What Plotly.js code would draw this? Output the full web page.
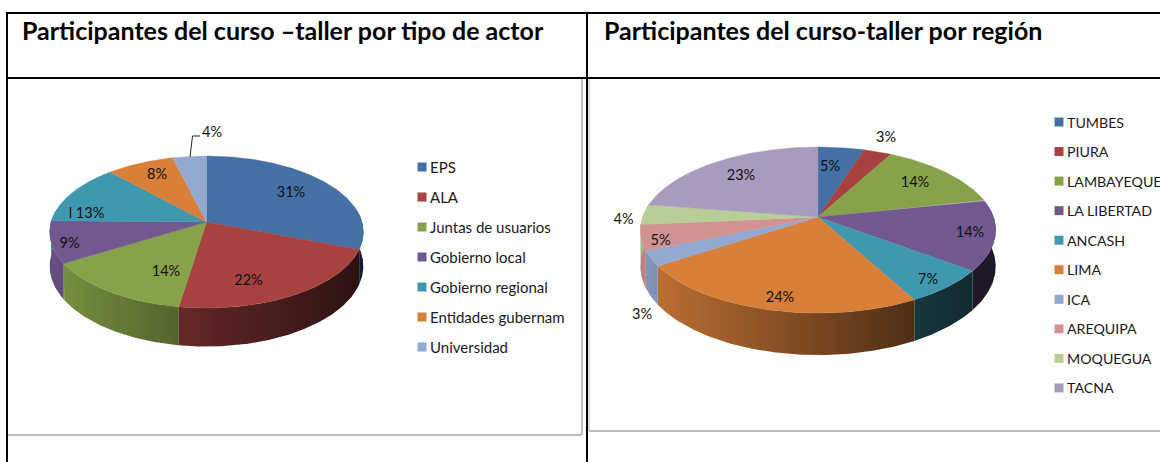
<!DOCTYPE html>
<html>
<head>
<meta charset="utf-8">
<script src="https://cdn.plot.ly/plotly-3.0.1.min.js"></script>
<style>html,body{margin:0;padding:0;background:#fff;overflow:hidden}#chart{width:1160px;height:462px}</style>
</head>
<body>
<div id="chart"></div>
<script>
// ---- data ----
const actorCategories = ['EPS','ALA','Juntas de usuarios','Gobierno local','Gobierno regional','Entidades gubernam','Universidad'];
const actorPercent = [31,22,14,9,13,8,4];
const actorLabelText = ['31%','22%','14%','9%','l 13%','8%','4%'];
const regionCategories = ['TUMBES','PIURA','LAMBAYEQUE','LA LIBERTAD','ANCASH','LIMA','ICA','AREQUIPA','MOQUEGUA','TACNA'];
const regionPercent = [5,3,14,14,7,24,3,5,4,23];
const regionLabelText = ['5%','3%','14%','14%','7%','24%','3%','5%','4%','23%'];
const titleLeft = 'Participantes del curso –taller por tipo de actor';
const titleRight = 'Participantes del curso-taller por región';

// ---- style and layout ----
const actorColors = ['#4470a6','#a74241','#87a34a','#71588f','#4098af','#d87f3a','#93a9cf'];
const regionColors = ['#4470a6','#a74241','#87a34a','#71588f','#4098af','#d87f3a','#93a9cf','#d19392','#b9cd96','#a99bbd'];
const leftGeom = {cx:206.5, cy:222, R:155.5, H:74.7, k:0.1316, D:33.5};
const rightGeom = {cx:818, cy:217, R:175.5, H:81, k:0.157, D:35.4};
const leftLabelPos = [[291,193],[248.5,281],[166,272],[69.5,244],[86.5,214],[157,175],[212,133]];
const rightLabelPos = [[830,167],[886,138],[915,183],[970,233],[928,280],[780,298],[642,315],[660.5,241],[623.5,220],[741,176]];
const leftLegend = {x:422, y:167, step:30, textX:430, textDy:2, size:15};
const rightLegend = {x:1059, y:122, step:29.55, textX:1067, textDy:2, size:14.2};
const FONT = 'Lato, "Open Sans", sans-serif';

function rim(g, deg, drop) {
  const a = deg * Math.PI / 180, u = Math.sin(a), v = -Math.cos(a);
  const s = 1 / (1 - g.k * v);
  return [g.cx + g.R * u * s, g.cy + g.H * v * s + (drop ? g.D * s : 0)];
}
function shade(hex, f) {
  const n = parseInt(hex.slice(1), 16);
  const c = [n >> 16, (n >> 8) & 255, n & 255].map(x => Math.round(x * f));
  return 'rgb(' + c.join(',') + ')';
}
function pieTraces(values, colors, g) {
  const total = values.reduce((a, b) => a + b, 0);
  const walls = [], tops = [];
  let acc = 0;
  const lo = g.cx - g.R * 1.01, span = g.R * 2.02;
  values.forEach((val, i) => {
    const a1 = acc / total * 360, a2 = (acc + val) / total * 360;
    acc += val;
    const tx = [g.cx], ty = [g.cy];
    for (let d = a1; d < a2; d += 0.5) { const p = rim(g, d); tx.push(p[0]); ty.push(p[1]); }
    const e = rim(g, a2); tx.push(e[0], g.cx); ty.push(e[1], g.cy);
    tops.push({type:'scatter', mode:'lines', x:tx, y:ty, fill:'toself', fillcolor:colors[i],
      line:{width:0.4, color:colors[i]}, hoverinfo:'skip', showlegend:false});
    const w1 = Math.max(a1, 80), w2 = Math.min(a2, 280);
    if (w2 > w1) {
      const up = [], dn = [];
      for (let d = w1; d < w2; d += 0.5) { up.push(rim(g, d)); dn.push(rim(g, d, true)); }
      up.push(rim(g, w2)); dn.push(rim(g, w2, true));
      const poly = up.concat(dn.reverse()); poly.push(up[0]);
      const xs = poly.map(p => p[0]), ys = poly.map(p => p[1]);
      const mn = Math.min(...xs), mx = Math.max(...xs);
      const f = x => Math.max(0.27, 0.9 - 0.7 * (x - lo) / span);
      const c1 = shade(colors[i], f(mn)), c2 = shade(colors[i], f(mx));
      walls.push({type:'scatter', mode:'lines', x:xs, y:ys, fill:'toself',
        fillgradient:{type:'horizontal', colorscale:[[0,c1],[1,c2]]},
        line:{width:0}, hoverinfo:'skip', showlegend:false});
    }
  });
  return walls.concat(tops);
}
function legendSwatches(names, colors, leg) {
  return {type:'scatter', mode:'markers', x:names.map(() => leg.x),
    y:names.map((_, i) => leg.y + i * leg.step), cliponaxis:false,
    marker:{symbol:'square', size:9, color:colors, line:{width:0}}, hoverinfo:'skip', showlegend:false};
}
function legendText(names, leg) {
  return {type:'scatter', mode:'text', x:names.map(() => leg.textX),
    y:names.map((_, i) => leg.y + leg.textDy + i * leg.step), text:names, textposition:'middle right',
    textfont:{family:FONT, size:leg.size, color:'#1a1a1a'}, cliponaxis:false, hoverinfo:'skip', showlegend:false};
}
function labelTrace(texts, pos) {
  return {type:'scatter', mode:'text', x:pos.map(p => p[0]), y:pos.map(p => p[1]), text:texts,
    textposition:'middle center', textfont:{family:FONT, size:14.5, color:'#111'},
    cliponaxis:false, hoverinfo:'skip', showlegend:false};
}
const traces = [].concat(
  pieTraces(actorPercent, actorColors, leftGeom),
  pieTraces(regionPercent, regionColors, rightGeom),
  [labelTrace(actorLabelText, leftLabelPos), labelTrace(regionLabelText, rightLabelPos),
   legendSwatches(actorCategories, actorColors, leftLegend), legendSwatches(regionCategories, regionColors, rightLegend),
   legendText(actorCategories, leftLegend), legendText(regionCategories, rightLegend)]
);
const line = (x0,y0,x1,y1,color,width) => ({type:'line', xref:'x', yref:'y', x0, y0, x1, y1, line:{color, width}, layer:'above'});
const layout = {
  width:1160, height:462, margin:{l:0,r:0,t:0,b:0}, paper_bgcolor:'#fff', plot_bgcolor:'#fff', showlegend:false,
  xaxis:{range:[0,1160], visible:false, fixedrange:true},
  yaxis:{range:[462,0], visible:false, fixedrange:true},
  shapes:[
    line(582,79,582,435,'#a9a9a9',1.5), line(7,435,582,435,'#a9a9a9',1.5),
    line(589,79,589,431,'#b5b5b5',1), line(589,431,1160,431,'#a9a9a9',1.5),
    line(7,13,1160,13,'#000',2), line(7,78,1160,78,'#000',2),
    line(7,12,7,462,'#000',2), line(587,12,587,462,'#000',2),
    {type:'path', xref:'x', yref:'y', path:'M190,157 L192.5,136 L200,136', line:{color:'#222', width:1}, layer:'above'}
  ],
  annotations:[
    {text:titleLeft, x:20, y:29.5, xref:'x', yref:'y', xanchor:'left', yanchor:'middle', showarrow:false,
     font:{family:FONT, size:25, color:'#000', weight:700}},
    {text:titleRight, x:602, y:29.5, xref:'x', yref:'y', xanchor:'left', yanchor:'middle', showarrow:false,
     font:{family:FONT, size:25, color:'#000', weight:700}}
  ]
};
Plotly.newPlot('chart', traces, layout, {staticPlot:true, displayModeBar:false});
</script>
</body>
</html>
